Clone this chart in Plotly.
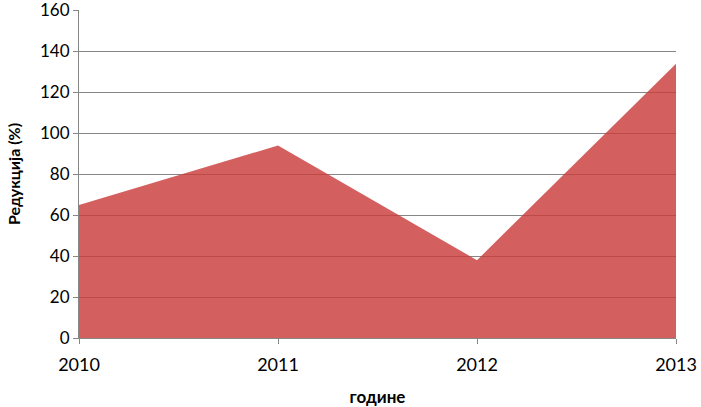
import plotly.graph_objects as go

years = [2010, 2011, 2012, 2013]
reduction = [65, 94, 38, 134]
y_ticks = [0, 20, 40, 60, 80, 100, 120, 140, 160]

fig = go.Figure()
fig.add_trace(go.Scatter(
    x=years, y=reduction, mode="lines", fill="tozeroy",
    line=dict(width=0, color="rgba(203,60,60,0.82)"),
    fillcolor="rgba(203,60,60,0.82)", hoverinfo="x+y", showlegend=False))

fig.update_layout(
    width=701, height=407,
    margin=dict(l=79, r=25, t=10, b=69),
    paper_bgcolor="white", plot_bgcolor="white",
    font=dict(family="Lato, 'Open Sans', sans-serif", color="black", size=18),
    xaxis=dict(range=[2010, 2013], tickvals=years, ticktext=[str(y) for y in years],
               automargin=False, ticklabeloverflow="allow", ticklabelstandoff=5,
               showgrid=False, showline=True, linecolor="#868686", linewidth=1,
               ticks="outside", ticklen=5, tickcolor="#868686", zeroline=False,
               title=dict(text="<b>године</b>", font=dict(size=17), standoff=20)),
    yaxis=dict(range=[0, 160.2], tickvals=y_ticks, showgrid=True, gridcolor="#868686",
               automargin=False, ticklabeloverflow="allow", tickfont=dict(size=17),
               gridwidth=1, showline=True, linecolor="#868686", linewidth=1,
               ticks="outside", ticklen=5, tickcolor="#868686", zeroline=False,
               title=dict(text="<b>Редукција (%)</b>", font=dict(size=16), standoff=15)),
)

fig.write_html("out.html", config={"displayModeBar": False},
               post_script="document.body.style.margin='0';")
